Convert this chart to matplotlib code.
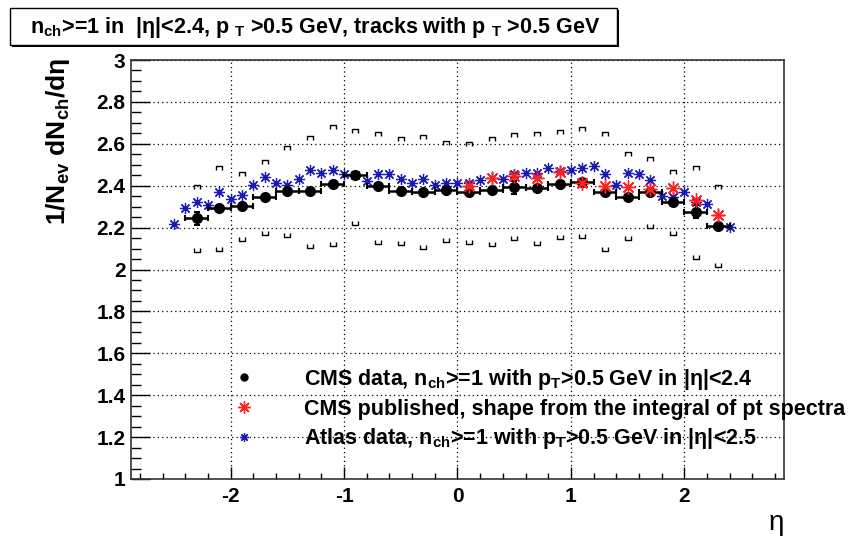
import matplotlib
matplotlib.use("Agg")
import matplotlib.pyplot as plt
from matplotlib.path import Path
from matplotlib.patches import Rectangle
from matplotlib.lines import Line2D
import numpy as np

plt.rcParams['font.family'] = ['Liberation Sans', 'DejaVu Sans']
plt.rcParams['mathtext.fontset'] = 'custom'
plt.rcParams['mathtext.rm'] = 'Liberation Sans:bold'
plt.rcParams['mathtext.bf'] = 'Liberation Sans:bold'
plt.rcParams['mathtext.it'] = 'Liberation Sans:bold'
plt.rcParams['mathtext.default'] = 'bf'

# CMS data, 0.2-wide eta bins
cms_eta = [-2.3, -2.1, -1.9, -1.7, -1.5, -1.3, -1.1, -0.9, -0.7, -0.5, -0.3, -0.1,
           0.1, 0.3, 0.5, 0.7, 0.9, 1.1, 1.3, 1.5, 1.7, 1.9, 2.1, 2.3]
cms_val = [2.244, 2.292, 2.305, 2.348, 2.377, 2.373, 2.407, 2.451, 2.397, 2.376, 2.371, 2.379,
           2.370, 2.379, 2.392, 2.387, 2.408, 2.419, 2.371, 2.348, 2.371, 2.324, 2.276, 2.208]
cms_stat = [0.03, 0.01, 0.01, 0.01, 0.01, 0.01, 0.01, 0.01, 0.01, 0.01, 0.01, 0.01,
            0.01, 0.01, 0.03, 0.01, 0.01, 0.01, 0.01, 0.01, 0.01, 0.01, 0.03, 0.01]
cms_halfwidth = [0.1] * 24
# systematic band edges
cms_sys_up = [2.392, 2.483, 2.454, 2.515, 2.581, 2.629, 2.682, 2.663, 2.647, 2.623, 2.631, 2.605,
              2.599, 2.623, 2.642, 2.647, 2.658, 2.669, 2.647, 2.551, 2.526, 2.467, 2.483, 2.392]
cms_sys_lo = [2.093, 2.098, 2.146, 2.176, 2.165, 2.112, 2.122, 2.223, 2.133, 2.125, 2.109, 2.141,
              2.133, 2.122, 2.149, 2.128, 2.157, 2.160, 2.096, 2.149, 2.208, 2.176, 2.061, 2.021]

# CMS published shape
pub_eta = [0.1, 0.3, 0.5, 0.7, 0.9, 1.1, 1.3, 1.5, 1.7, 1.9, 2.1, 2.3]
pub_val = [2.399, 2.435, 2.446, 2.435, 2.467, 2.411, 2.399, 2.395, 2.385, 2.390, 2.331, 2.258]

# ATLAS data
atlas_eta = [-2.5, -2.4, -2.3, -2.2, -2.1, -2.0, -1.9, -1.8, -1.7, -1.6, -1.5, -1.4, -1.3,
             -1.2, -1.1, -1.0, -0.9, -0.8, -0.7, -0.6, -0.5, -0.4, -0.3, -0.2, -0.1, 0.0,
             0.1, 0.2, 0.3, 0.4, 0.5, 0.6, 0.7, 0.8, 0.9, 1.0, 1.1, 1.2, 1.3, 1.4, 1.5,
             1.6, 1.7, 1.8, 1.9, 2.0, 2.1, 2.2, 2.3, 2.4]
atlas_val = [2.216, 2.292, 2.324, 2.306, 2.372, 2.336, 2.354, 2.401, 2.443, 2.415, 2.403, 2.434, 2.475,
             2.462, 2.475, 2.456, 2.450, 2.424, 2.458, 2.456, 2.432, 2.415, 2.432, 2.403, 2.415, 2.411,
             2.415, 2.427, 2.438, 2.432, 2.456, 2.462, 2.462, 2.484, 2.470, 2.475, 2.486, 2.494, 2.456,
             2.403, 2.462, 2.456, 2.427, 2.351, 2.348, 2.371, 2.320, 2.313, 2.260, 2.202]

x_ticks = [-2, -1, 0, 1, 2]
y_ticks = [1, 1.2, 1.4, 1.6, 1.8, 2, 2.2, 2.4, 2.6, 2.8, 3]
y_ticklabels = ['1', '1.2', '1.4', '1.6', '1.8', '2', '2.2', '2.4', '2.6', '2.8', '3']

W, H = 858, 539
fig = plt.figure(figsize=(W / 100, H / 100), dpi=100)
ax = fig.add_axes([131 / W, 1 - 479 / H, (784 - 131) / W, (479 - 60) / H])
ax.set_xlim(-2.88, 2.88)
ax.set_ylim(1, 3)

# bracket-shaped markers for the systematic band ends
up_bracket = Path([(-1, -0.6), (-1, 0.6), (1, 0.6), (1, -0.6)],
                  [Path.MOVETO, Path.LINETO, Path.LINETO, Path.LINETO])
lo_bracket = Path([(-1, 0.6), (-1, -0.6), (1, -0.6), (1, 0.6)],
                  [Path.MOVETO, Path.LINETO, Path.LINETO, Path.LINETO])

ax.plot(cms_eta, cms_sys_up, ls='none', marker=up_bracket, ms=5, mfc='none',
        mec='black', mew=1.0, zorder=3)
ax.plot(cms_eta, cms_sys_lo, ls='none', marker=lo_bracket, ms=5, mfc='none',
        mec='black', mew=1.0, zorder=3)

asterisk = (8, 2, 0)
ax.plot(atlas_eta, atlas_val, ls='none', marker=asterisk, ms=8, mec='#1a1ab4',
        mew=0.9, zorder=4)
ax.errorbar(cms_eta, cms_val, xerr=cms_halfwidth, yerr=cms_stat, fmt='o', ms=7,
            color='black', ecolor='black', elinewidth=1.8, capsize=2.5, capthick=1.5,
            zorder=5)
ax.plot(pub_eta, pub_val, ls='none', marker=asterisk, ms=10, mec='#ff2020',
        mew=1.0, zorder=6)

# axes styling
ax.set_xticks(x_ticks)
ax.set_xticklabels([str(t) for t in x_ticks])
ax.set_yticks(y_ticks)
ax.set_yticklabels(y_ticklabels)
ax.set_xticks(np.arange(-2.8, 2.81, 0.2), minor=True)
ax.set_yticks(np.arange(1.0, 3.001, 0.05), minor=True)
ax.tick_params(axis='both', which='both', direction='in', top=False, right=False,
               width=1.0, colors='black')
ax.tick_params(axis='y', which='major', length=14, pad=4)
ax.tick_params(axis='y', which='minor', length=7)
ax.tick_params(axis='x', which='major', length=9, pad=6)
ax.tick_params(axis='x', which='minor', length=4.5)
for lab in ax.get_xticklabels() + ax.get_yticklabels():
    lab.set_fontweight('bold')
    lab.set_fontsize(15)
ax.grid(True, which='major', color='black', ls=(0, (1, 2.5)), lw=0.9)
ax.set_axisbelow(True)
for s in ax.spines.values():
    s.set_linewidth(1.2)
    s.set_color('#333333')

fig.text(58 / W, 1 - 58 / H, r'1/N$_{ev}$ dN$_{ch}$/dη', rotation=90, ha='center',
         va='top', fontsize=19, fontweight='bold')
fig.text(784 / W, 1 - 523 / H, 'η', ha='right', va='center', fontsize=20)

# legend
handles = [
    Line2D([], [], ls='none', marker='o', ms=5, color='black'),
    Line2D([], [], ls='none', marker=asterisk, ms=9, mec='#ff2020', mew=1.0),
    Line2D([], [], ls='none', marker=asterisk, ms=6.5, mec='#1a1ab4', mew=0.9),
]
labels = [
    r'CMS data, n$_{ch}$>=1 with p$_{T}$>0.5 GeV in |η|<2.4',
    'CMS published, shape from the integral of pt spectra',
    r'Atlas data, n$_{ch}$>=1 with p$_{T}$>0.5 GeV in |η|<2.5',
]
leg = ax.legend(handles, labels, loc='upper left',
                bbox_to_anchor=(234 / W, 1 - 367 / H), bbox_transform=fig.transFigure,
                frameon=False, handlelength=0.9, handletextpad=2.35,
                labelspacing=0.31, borderpad=0, borderaxespad=0,
                prop={'weight': 'bold', 'size': 15.5})

# title box with shadow
fig.patches.append(Rectangle((12 / W, 1 - 47 / H), 607 / W, 37 / H,
                             transform=fig.transFigure, facecolor='black',
                             edgecolor='black', lw=0, zorder=1))
fig.patches.append(Rectangle((10 / W, 1 - 45 / H), 607 / W, 37 / H,
                             transform=fig.transFigure, facecolor='white',
                             edgecolor='black', lw=1.0, zorder=2))
fig.text(315 / W, 1 - 27 / H,
         r'n$_{ch}$>=1 in  |η|<2.4, p ${}_{T}$ >0.5 GeV, tracks with p ${}_{T}$ >0.5 GeV',
         ha='center', va='center', fontsize=15.5, fontweight='bold', zorder=3)

fig.savefig('out.png', dpi=100)
